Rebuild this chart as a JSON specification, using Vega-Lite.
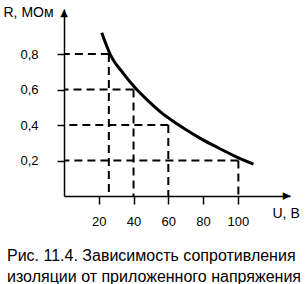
{
  "$schema": "https://vega.github.io/schema/vega-lite/v6.json",
  "autosize": "none",
  "width": 226,
  "height": 187,
  "padding": {"left": 64, "top": 9, "right": 15, "bottom": 88},
  "background": "white",
  "config": {"view": {"stroke": null}, "font": "Liberation Sans"},
  "title": {
    "text": ["Рис. 11.4. Зависимость сопротивления", "изоляции от приложенного напряжения"],
    "orient": "bottom",
    "anchor": "start",
    "frame": "group",
    "dx": -57,
    "offset": 20,
    "fontSize": 16,
    "fontWeight": "normal",
    "font": "Liberation Sans",
    "lineHeight": 21,
    "color": "black"
  },
  "datasets": {
    "curve": [
      {"u": 21.7, "r": 0.92}, {"u": 26.5, "r": 0.80}, {"u": 34.2, "r": 0.69},
      {"u": 40.9, "r": 0.61}, {"u": 48.6, "r": 0.535}, {"u": 56, "r": 0.47},
      {"u": 63, "r": 0.42}, {"u": 70, "r": 0.375}, {"u": 78.4, "r": 0.325},
      {"u": 88, "r": 0.275}, {"u": 97.6, "r": 0.228}, {"u": 109, "r": 0.18}
    ],
    "guides": [
      {"u": 25.8, "r": 0.8}, {"u": 40, "r": 0.6}, {"u": 60, "r": 0.4}, {"u": 100.3, "r": 0.2}
    ],
    "arrowUp": [{"u": 0, "r": 1.03}],
    "arrowRight": [{"u": 128, "r": 0}]
  },
  "layer": [
    {
      "data": {"name": "guides"},
      "mark": {"type": "rule", "strokeDash": [8, 5], "strokeWidth": 2, "color": "black"},
      "encoding": {
        "x": {"field": "u", "type": "quantitative", "scale": {"domain": [0, 130], "nice": false},
          "axis": {
            "values": [20, 40, 60, 80, 100],
            "domainColor": "black", "domainWidth": 1.5,
            "tickColor": "black", "tickWidth": 1.5, "tickSize": 8,
            "labelColor": "black", "labelFontSize": 13, "labelPadding": 11,
            "labelFont": "Liberation Sans",
            "grid": false,
            "title": "U, B", "titleFontSize": 14, "titleFontWeight": "normal",
            "titleColor": "black", "titleFont": "Liberation Sans",
            "titleAnchor": "start", "titleAlign": "left", "titleBaseline": "alphabetic",
            "titleX": 208, "titleY": 21
          }},
        "x2": {"datum": 0},
        "y": {"field": "r", "type": "quantitative", "scale": {"domain": [0, 1.054], "nice": false},
          "axis": {
            "values": [0.2, 0.4, 0.6, 0.8],
            "labelExpr": "replace(format(datum.value, '.1f'), '.', ',')",
            "domainColor": "black", "domainWidth": 1.5,
            "tickColor": "black", "tickWidth": 1.5, "tickSize": 7,
            "labelColor": "black", "labelFontSize": 13, "labelPadding": 19,
            "labelFont": "Liberation Sans",
            "grid": false,
            "title": "R, МОм", "titleFontSize": 14, "titleFontWeight": "normal",
            "titleColor": "black", "titleFont": "Liberation Sans",
            "titleAngle": 0, "titleAlign": "left", "titleBaseline": "alphabetic",
            "titleX": -61, "titleY": 7
          }}
      }
    },
    {
      "data": {"name": "guides"},
      "mark": {"type": "rule", "strokeDash": [8, 5], "strokeWidth": 2, "color": "black"},
      "encoding": {
        "x": {"field": "u", "type": "quantitative"},
        "y": {"field": "r", "type": "quantitative"},
        "y2": {"datum": 0}
      }
    },
    {
      "data": {"name": "curve"},
      "mark": {"type": "line", "color": "black", "strokeWidth": 3, "interpolate": "monotone"},
      "encoding": {
        "x": {"field": "u", "type": "quantitative"},
        "y": {"field": "r", "type": "quantitative"}
      }
    },
    {
      "data": {"name": "arrowUp"},
      "mark": {"type": "text", "text": "▲", "font": "DejaVu Sans", "fontSize": 10, "color": "black",
        "align": "center", "baseline": "middle"},
      "encoding": {
        "x": {"field": "u", "type": "quantitative"},
        "y": {"field": "r", "type": "quantitative"}
      }
    },
    {
      "data": {"name": "arrowRight"},
      "mark": {"type": "text", "text": "▲", "font": "DejaVu Sans", "fontSize": 10, "color": "black",
        "align": "center", "baseline": "middle", "angle": 90},
      "encoding": {
        "x": {"field": "u", "type": "quantitative"},
        "y": {"field": "r", "type": "quantitative"}
      }
    }
  ]
}
